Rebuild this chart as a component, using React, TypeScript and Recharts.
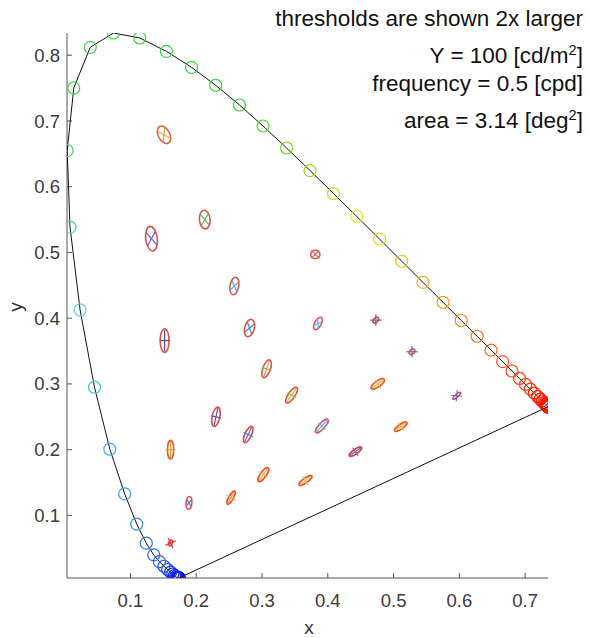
import React from 'react';
import { ScatterChart, Scatter, XAxis, YAxis } from 'recharts';

const FONT = '"Liberation Sans", Arial, Helvetica, sans-serif';

// CIE 1931 2deg spectral locus, 5 nm steps
const wavelengths = [
  380, 385, 390, 395, 400, 405, 410, 415, 420, 425, 430, 435, 440, 445, 450, 455,
  460, 465, 470, 475, 480, 485, 490, 495, 500, 505, 510, 515, 520, 525, 530, 535,
  540, 545, 550, 555, 560, 565, 570, 575, 580, 585, 590, 595, 600, 605, 610, 615,
  620, 625, 630, 635, 640, 645, 650, 655, 660, 665, 670, 675, 680, 685, 690, 695,
  700, 705, 710, 715, 720, 725, 730, 735, 740, 745, 750, 755, 760, 765, 770, 775, 780,
];
const locusX = [
  0.1741, 0.1740, 0.1738, 0.1736, 0.1733, 0.1730, 0.1726, 0.1721, 0.1714, 0.1703, 0.1689, 0.1669, 0.1644, 0.1611, 0.1566, 0.1510,
  0.1440, 0.1355, 0.1241, 0.1096, 0.0913, 0.0687, 0.0454, 0.0235, 0.0082, 0.0039, 0.0139, 0.0389, 0.0743, 0.1142, 0.1547, 0.1929,
  0.2296, 0.2658, 0.3016, 0.3373, 0.3731, 0.4087, 0.4441, 0.4788, 0.5125, 0.5448, 0.5752, 0.6029, 0.6270, 0.6482, 0.6658, 0.6801,
  0.6915, 0.7006, 0.7079, 0.7140, 0.7190, 0.7230, 0.7260, 0.7283, 0.7300, 0.7311, 0.7320, 0.7327, 0.7334, 0.7340, 0.7344, 0.7346,
  0.7347, 0.7347, 0.7347, 0.7347, 0.7347, 0.7347, 0.7347, 0.7347, 0.7347, 0.7347, 0.7347, 0.7347, 0.7347, 0.7347, 0.7347, 0.7347, 0.7347,
];
const locusY = [
  0.0050, 0.0050, 0.0049, 0.0049, 0.0048, 0.0048, 0.0048, 0.0048, 0.0051, 0.0058, 0.0069, 0.0086, 0.0109, 0.0138, 0.0177, 0.0227,
  0.0297, 0.0399, 0.0578, 0.0868, 0.1327, 0.2007, 0.2950, 0.4127, 0.5384, 0.6548, 0.7502, 0.8120, 0.8338, 0.8262, 0.8059, 0.7816,
  0.7543, 0.7243, 0.6923, 0.6589, 0.6245, 0.5896, 0.5547, 0.5202, 0.4866, 0.4544, 0.4242, 0.3965, 0.3725, 0.3514, 0.3340, 0.3197,
  0.3083, 0.2993, 0.2920, 0.2859, 0.2809, 0.2770, 0.2740, 0.2717, 0.2700, 0.2689, 0.2680, 0.2673, 0.2666, 0.2660, 0.2656, 0.2654,
  0.2653, 0.2653, 0.2653, 0.2653, 0.2653, 0.2653, 0.2653, 0.2653, 0.2653, 0.2653, 0.2653, 0.2653, 0.2653, 0.2653, 0.2653, 0.2653, 0.2653,
];

// threshold ellipses (centre, semi-axes in chromaticity units, angle in degrees)
const threshX = [0.151, 0.132, 0.213, 0.381, 0.258, 0.281, 0.152, 0.385, 0.473, 0.307, 0.528, 0.345, 0.476, 0.230, 0.279, 0.391, 0.596, 0.161, 0.511, 0.302, 0.442, 0.189, 0.253, 0.366, 0.161];
const threshY = [0.679, 0.521, 0.550, 0.497, 0.449, 0.385, 0.366, 0.392, 0.397, 0.323, 0.349, 0.283, 0.300, 0.250, 0.223, 0.236, 0.282, 0.200, 0.235, 0.162, 0.197, 0.119, 0.127, 0.153, 0.058];
const ellipseMajor = [0.0142, 0.0188, 0.0142, 0.0070, 0.0135, 0.0135, 0.0180, 0.0104, 0.0050, 0.0142, 0.0050, 0.0142, 0.0120, 0.0150, 0.0135, 0.0135, 0.0074, 0.0142, 0.0112, 0.0127, 0.0112, 0.0097, 0.0112, 0.0120, 0.0044];
const ellipseMinor = [0.0088, 0.0088, 0.0081, 0.0063, 0.0066, 0.0073, 0.0068, 0.0050, 0.0035, 0.0058, 0.0035, 0.0050, 0.0043, 0.0058, 0.0050, 0.0043, 0.0020, 0.0047, 0.0035, 0.0043, 0.0035, 0.0043, 0.0035, 0.0035, 0.0028];
const ellipseAngle = [118, 97, 95, 0, 80, 75, 90, 60, 45, 70, 45, 55, 35, 78, 65, 47, 40, 90, 35, 55, 35, 85, 60, 35, 70];

const xTicks = [0.1, 0.2, 0.3, 0.4, 0.5, 0.6, 0.7];
const yTicks = [0.1, 0.2, 0.3, 0.4, 0.5, 0.6, 0.7, 0.8];

const X_DOMAIN: [number, number] = [0.0036, 0.7347];
const Y_DOMAIN: [number, number] = [0.0048, 0.8338];

// layout
const W = 590;
const H = 638;
const M = { top: 33, right: 42, left: 0, bottom: 0 };
const Y_AXIS_W = 67;
const X_AXIS_H = 60;
const PLOT_W = W - M.left - M.right - Y_AXIS_W;
const PX = PLOT_W / (X_DOMAIN[1] - X_DOMAIN[0]);

const ellipseStroke = [
  '#d8604c', '#d9534a', '#d9534a', '#e0504a', '#db5548', '#db5548', '#d9534a', '#e05060', '#e04050',
  '#e0503a', '#d85060', '#e0503a', '#ee5a28', '#dd4a4a', '#e04545', '#c06070', '#e8304a', '#e85a30',
  '#f05020', '#f04a24', '#f03030', '#e85060', '#f04a28', '#f04a24', '#e83a3a',
];
const crossStroke = [
  '#e8a53a', '#6a5acd', '#5bb55b', '#d65a4a', '#4aa8e0', '#3a7fd0', '#5a4a8a', '#5ab8e8', '#7a5aa8',
  '#a0b050', '#7a6aa8', '#b0c040', '#e8b040', '#6a4a9a', '#4a7ad0', '#60b0e0', '#5a7ac0', '#e0a030',
  '#f0c040', '#e8b040', '#5a6ab0', '#5a7ac0', '#e0b040', '#e8c050', '#d04040',
];

const hueStops: [number, number, number, number][] = [
  [380, 240, 100, 50],
  [440, 235, 90, 52],
  [470, 218, 80, 55],
  [485, 200, 75, 58],
  [495, 182, 65, 57],
  [505, 125, 62, 55],
  [545, 118, 62, 52],
  [560, 85, 75, 50],
  [575, 52, 88, 52],
  [590, 35, 92, 55],
  [610, 15, 95, 55],
  [640, 6, 100, 50],
  [780, 6, 100, 50],
];

const wavelengthColor = (nm: number) => {
  for (let i = 0; i < hueStops.length - 1; i++) {
    const [n0, h0, s0, l0] = hueStops[i];
    const [n1, h1, s1, l1] = hueStops[i + 1];
    if (nm >= n0 && nm <= n1) {
      const t = (nm - n0) / (n1 - n0);
      return `hsl(${h0 + (h1 - h0) * t}, ${s0 + (s1 - s0) * t}%, ${l0 + (l1 - l0) * t}%)`;
    }
  }
  return 'hsl(6, 100%, 50%)';
};

const locusData = wavelengths.map((nm, i) => ({ nm, x: locusX[i], y: locusY[i] }));
const closingLine = [
  { x: locusX[locusX.length - 1], y: locusY[locusY.length - 1] },
  { x: locusX[0], y: locusY[0] },
];
const thresholdData = threshX.map((x, i) => ({
  x,
  y: threshY[i],
  a: ellipseMajor[i],
  b: ellipseMinor[i],
  angle: ellipseAngle[i],
  idx: i,
}));

const LocusCircle = (props: any) => {
  const { cx, cy, payload } = props;
  if (cx == null || cy == null) return <g />;
  return <circle cx={cx} cy={cy} r={6} fill="none" stroke={wavelengthColor(payload.nm)} strokeWidth={1.2} />;
};

const ThresholdMark = (props: any) => {
  const { cx, cy, payload } = props;
  if (cx == null || cy == null) return <g />;
  const a = payload.a * PX;
  const b = payload.b * PX;
  const col = crossStroke[payload.idx];
  let segs: number[][];
  if (a < 6) {
    const h = 4;
    segs = [[-h, -h, h, h], [-h, h, h, -h]];
  } else if (a / b < 2.3) {
    const phi = (35 * Math.PI) / 180;
    const r = (a * b) / Math.sqrt((b * Math.cos(phi)) ** 2 + (a * Math.sin(phi)) ** 2);
    const dx = r * 0.95 * Math.cos(phi);
    const dy = r * 0.95 * Math.sin(phi);
    segs = [[-dx, -dy, dx, dy], [-dx, dy, dx, -dy]];
  } else {
    segs = [[-a * 0.9, 0, a * 0.9, 0], [0, -5, 0, 5]];
  }
  return (
    <g transform={`translate(${cx},${cy}) rotate(${-payload.angle})`}>
      <ellipse rx={a} ry={b} fill="none" stroke={ellipseStroke[payload.idx]} strokeWidth={1.6} />
      {segs.map((s, k) => (
        <line key={k} x1={s[0]} y1={s[1]} x2={s[2]} y2={s[3]} stroke={col} strokeWidth={1.2} />
      ))}
    </g>
  );
};

const NoDot = () => <g />;

const infoLine = (top: number, content: React.ReactNode) => (
  <div
    style={{
      position: 'absolute',
      right: 7,
      top,
      fontFamily: FONT,
      fontSize: 22.5,
      lineHeight: '22.5px',
      color: '#111',
      whiteSpace: 'nowrap',
    }}
  >
    {content}
  </div>
);

const sup = (t: string) => (
  <sup style={{ fontSize: '0.65em', lineHeight: 0, verticalAlign: 'super' }}>{t}</sup>
);

export default function App() {
  return (
    <div style={{ position: 'absolute', left: 0, top: 0, width: W, height: H, background: '#fff' }}>
      <ScatterChart width={W} height={H} margin={M}>
        <XAxis
          type="number"
          dataKey="x"
          domain={X_DOMAIN}
          ticks={xTicks}
          allowDataOverflow
          interval={0}
          height={X_AXIS_H}
          tickSize={-5}
          tickMargin={21}
          axisLine={{ stroke: '#555', strokeWidth: 1 }}
          tickLine={{ stroke: '#555', strokeWidth: 1 }}
          tick={{ fontSize: 18.5, fill: '#3a3a3a', fontFamily: FONT }}
        />
        <YAxis
          type="number"
          dataKey="y"
          domain={Y_DOMAIN}
          ticks={yTicks}
          allowDataOverflow
          interval={0}
          width={Y_AXIS_W}
          tickSize={-5}
          tickMargin={12}
          axisLine={{ stroke: '#555', strokeWidth: 1 }}
          tickLine={{ stroke: '#555', strokeWidth: 1 }}
          tick={{ fontSize: 18.5, fill: '#3a3a3a', fontFamily: FONT }}
        />
        <Scatter
          data={locusData}
          shape={LocusCircle}
          line={{ stroke: '#111', strokeWidth: 1 }}
          isAnimationActive={false}
        />
        <Scatter
          data={closingLine}
          shape={NoDot}
          line={{ stroke: '#111', strokeWidth: 1 }}
          isAnimationActive={false}
        />
        <Scatter data={thresholdData} shape={ThresholdMark} isAnimationActive={false} />
      </ScatterChart>

      {infoLine(8, 'thresholds are shown 2x larger')}
      {infoLine(44.5, <>Y = 100 [cd/m{sup('2')}]</>)}
      {infoLine(72.5, 'frequency = 0.5 [cpd]')}
      {infoLine(109.5, <>area = 3.14 [deg{sup('2')}]</>)}

      <div
        style={{
          position: 'absolute',
          left: 309,
          top: 618,
          transform: 'translateX(-50%)',
          fontFamily: FONT,
          fontSize: 19,
          lineHeight: '19px',
          color: '#333',
        }}
      >
        x
      </div>
      <div
        style={{
          position: 'absolute',
          left: 15.4,
          top: 306.7,
          transform: 'translate(-50%, -50%) rotate(-90deg)',
          fontFamily: FONT,
          fontSize: 19,
          lineHeight: '19px',
          color: '#333',
        }}
      >
        y
      </div>
    </div>
  );
}
